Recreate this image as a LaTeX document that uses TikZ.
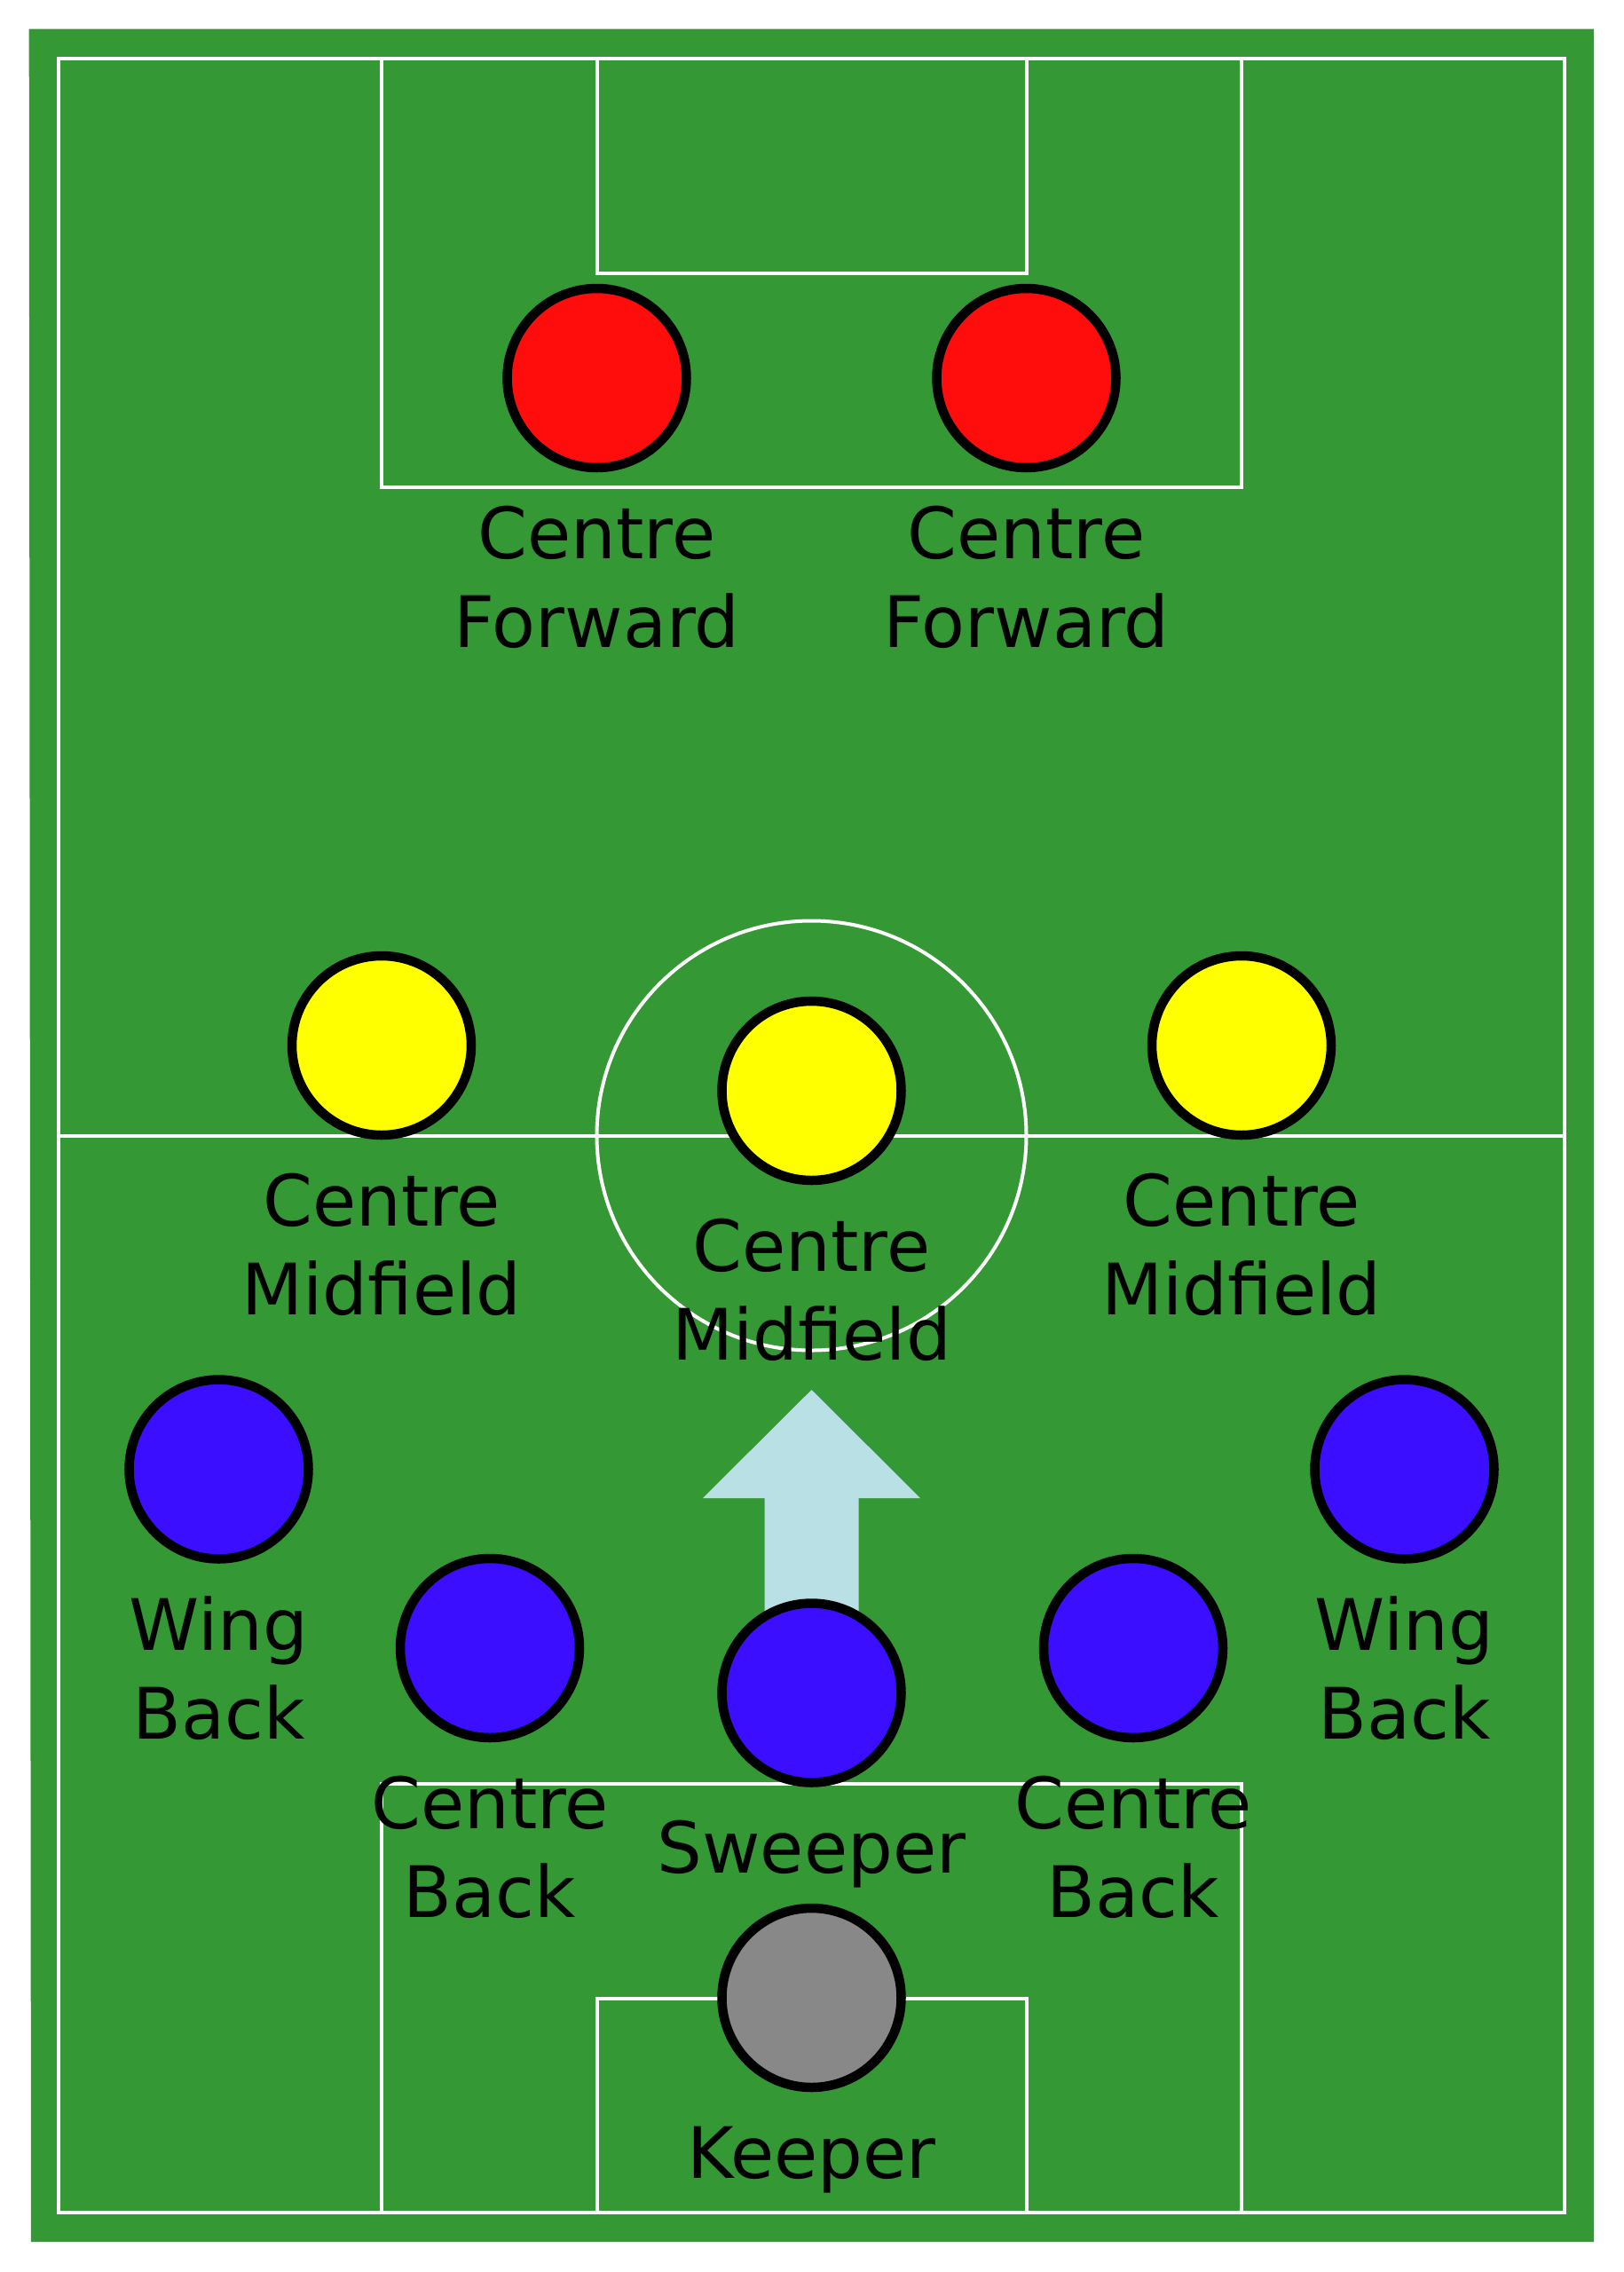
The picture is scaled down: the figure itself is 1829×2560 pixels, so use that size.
\documentclass[tikz,border=0pt]{standalone}
\usepackage{fontspec}
\setmainfont{DejaVu Sans}
\definecolor{pitch}{RGB}{52,153,52}
\definecolor{fwd}{RGB}{255,13,13}
\definecolor{mid}{RGB}{255,255,0}
\definecolor{def}{RGB}{59,14,255}
\definecolor{gk}{RGB}{136,136,136}
\definecolor{arrowc}{RGB}{185,224,228}
\tikzset{
  line/.style={draw=white, line width=4bp},
  player/.style={circle, draw=black, line width=10.5bp, minimum size=202bp, inner sep=0pt},
  lbl/.style={anchor=base, align=center, text=black, inner sep=0pt, font=\fontsize{80bp}{100bp}\selectfont},
}
\begin{document}
\begin{tikzpicture}[x=1bp, y=-1bp]
\useasboundingbox (0,0) rectangle (1829,2560);
\fill[white] (0,0) rectangle (1829,2560);
% pitch
\fill[pitch] (32.7,32.7) -- (1796,32.7) -- (1796,2526) -- (35,2526) -- cycle;
\draw[line] (66,66) rectangle (1763,2493);
\draw[line] (66,1279.5) -- (1763,1279.5);
\draw[line] (914.5,1279.5) circle[radius=242];
\draw[line] (430,66) -- (430,549) -- (1399,549) -- (1399,66);
\draw[line] (672.5,66) -- (672.5,307.5) -- (1156.5,307.5) -- (1156.5,66);
\draw[line] (430,2493) -- (430,2010) -- (1399,2010) -- (1399,2493);
\draw[line] (672.5,2493) -- (672.5,2251.5) -- (1156.5,2251.5) -- (1156.5,2493);
% arrow
\fill[arrowc] (914.5,1566) -- (1037,1688) -- (967.5,1688) -- (967.5,1850) -- (861.5,1850) -- (861.5,1688) -- (792,1688) -- cycle;
% players
\node[player, fill=fwd] (cf1) at (672.5,426) {};
\node[player, fill=fwd] (cf2) at (1156.5,426) {};
\node[player, fill=mid] (cm1) at (430,1178) {};
\node[player, fill=mid] (cm2) at (914.5,1229) {};
\node[player, fill=mid] (cm3) at (1399,1178) {};
\node[player, fill=def] (wb1) at (246.5,1655.5) {};
\node[player, fill=def] (wb2) at (1582.5,1655.5) {};
\node[player, fill=def] (cb1) at (552,1857) {};
\node[player, fill=def] (cb2) at (1277,1857) {};
\node[player, fill=def] (sw) at (914.5,1907.5) {};
\node[player, fill=gk] (kp) at (914.5,2251) {};
% labels (base anchor = last line's baseline)
\node[lbl] (cf1l) at (672.5,729.5) {Centre\\Forward};
\node[lbl] (cf2l) at (1156.5,729.5) {Centre\\Forward};
\node[lbl] (cm1l) at (430,1481) {Centre\\Midfield};
\node[lbl] (cm2l) at (914.5,1532) {Centre\\Midfield};
\node[lbl] (cm3l) at (1399,1481) {Centre\\Midfield};
\node[lbl] (wb1l) at (246.5,1959) {Wing\\Back};
\node[lbl] (wb2l) at (1582.5,1959) {Wing\\Back};
\node[lbl] (cb1l) at (552,2160) {Centre\\Back};
\node[lbl] (cb2l) at (1277,2160) {Centre\\Back};
\node[lbl] (swl) at (914.5,2110.5) {Sweeper};
\node[lbl] (kpl) at (914.5,2454) {Keeper};
\end{tikzpicture}
\end{document}
